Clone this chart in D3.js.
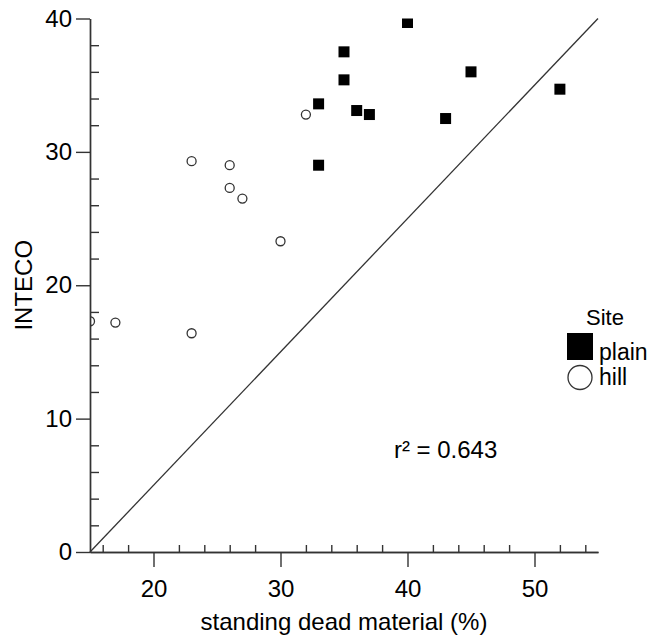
<!DOCTYPE html>
<html lang="en">
<head>
  <meta charset="UTF-8">
  <title>INTECO vs standing dead material</title>
  <script src="https://d3js.org/d3.v7.min.js"></script>
  <style>
    body {
      background: #fff;
      margin: 0;
    }
    text {
      font-family: Arial, 'Liberation Sans', Helvetica, sans-serif;
      fill: #000;
    }
    .tick text {
      font-size: 24px;
    }
    .axis path, .axis line {
      stroke: #333;
      stroke-width: 1.4px;
    }
  </style>
</head>
<body>
  <script>
    // site "plain" (filled squares)
    var plainX = [33, 33, 35, 35, 36, 37, 40, 43, 45, 52];
    var plainY = [33.6, 29.0, 37.5, 35.4, 33.1, 32.8, 39.7, 32.5, 36.0, 34.7];

    // site "hill" (open circles)
    var hillX = [15, 17, 23, 23, 26, 26, 27, 30, 32];
    var hillY = [17.3, 17.2, 16.4, 29.3, 29.0, 27.3, 26.5, 23.3, 32.8];

    var xMajor = [20, 30, 40, 50];
    var xMinor = [16, 18, 22, 24, 26, 28, 32, 34, 36, 38, 42, 44, 46, 48, 52, 54];
    var yMajor = [0, 10, 20, 30, 40];
    var yMinor = [2, 4, 6, 8, 12, 14, 16, 18, 22, 24, 26, 28, 32, 34, 36, 38];

    var refLine = [[15, 0], [55, 40]];
    var r2Label = "r\u00b2 = 0.643";

    var width = 652, height = 637;
    var margin = { top: 18.5, right: 54, bottom: 85, left: 90 };

    var svg = d3.select("body").append("svg")
      .attr("width", width)
      .attr("height", height);

    var x = d3.scaleLinear()
      .domain([15, 55])
      .range([margin.left, width - margin.right]);

    var y = d3.scaleLinear()
      .domain([0, 40])
      .range([height - margin.bottom, margin.top]);

    svg.append("clipPath")
      .attr("id", "plot")
      .append("rect")
      .attr("x", x(15))
      .attr("y", y(40))
      .attr("width", x(55) - x(15))
      .attr("height", y(0) - y(40));

    // reference line y = x - 15
    svg.append("line")
      .attr("x1", x(refLine[0][0]))
      .attr("y1", y(refLine[0][1]))
      .attr("x2", x(refLine[1][0]))
      .attr("y2", y(refLine[1][1]))
      .attr("stroke", "#333")
      .attr("stroke-width", 1.3);

    var points = svg.append("g")
      .attr("clip-path", "url(#plot)");

    points.selectAll(".hill")
      .data(hillX)
      .enter()
      .append("circle")
      .attr("cx", function(d) { return x(d); })
      .attr("cy", function(d, i) { return y(hillY[i]); })
      .attr("r", 4.5)
      .attr("fill", "#fff")
      .attr("stroke", "#333")
      .attr("stroke-width", 1.3);

    points.selectAll(".plain")
      .data(plainX)
      .enter()
      .append("rect")
      .attr("x", function(d) { return x(d) - 5.5; })
      .attr("y", function(d, i) { return y(plainY[i]) - 5.5; })
      .attr("width", 11)
      .attr("height", 11)
      .attr("fill", "#000");

    // axes
    var xAxis = svg.append("g")
      .attr("class", "axis")
      .attr("transform", "translate(0," + y(0) + ")");

    xAxis.call(d3.axisBottom(x)
      .tickValues(xMinor)
      .tickSize(-7)
      .tickSizeOuter(0)
      .tickFormat(""));

    xAxis.append("g").call(d3.axisBottom(x)
      .tickValues(xMajor)
      .tickSize(15)
      .tickPadding(13)
      .tickSizeOuter(0));

    var yAxis = svg.append("g")
      .attr("class", "axis")
      .attr("transform", "translate(" + x(15) + ",0)");

    yAxis.call(d3.axisLeft(y)
      .tickValues(yMinor)
      .tickSize(-9)
      .tickSizeOuter(0)
      .tickFormat(""));

    yAxis.append("g").call(d3.axisLeft(y)
      .tickValues(yMajor)
      .tickSize(14)
      .tickPadding(4)
      .tickSizeOuter(0));

    svg.selectAll(".tick text").attr("fill", "#000");

    // axis titles
    svg.append("text")
      .attr("x", (x(15) + x(55)) / 2)
      .attr("y", 630)
      .attr("text-anchor", "middle")
      .style("font-size", "24px")
      .text("standing dead material (%)");

    svg.append("text")
      .attr("transform", "translate(32," + (y(0) + y(40)) / 2 + ") rotate(-90)")
      .attr("text-anchor", "middle")
      .style("font-size", "24px")
      .text("INTECO");

    svg.append("text")
      .attr("x", x(43))
      .attr("y", y(7.06))
      .attr("text-anchor", "middle")
      .style("font-size", "24px")
      .text(r2Label);

    // legend
    var legend = svg.append("g")
      .attr("transform", "translate(567,0)");

    legend.append("text")
      .attr("x", 38)
      .attr("y", 325)
      .attr("text-anchor", "middle")
      .style("font-size", "22px")
      .text("Site");

    legend.append("rect")
      .attr("x", 0)
      .attr("y", 333)
      .attr("width", 26)
      .attr("height", 27)
      .attr("fill", "#000");

    legend.append("text")
      .attr("x", 32)
      .attr("y", 360)
      .style("font-size", "23px")
      .text("plain");

    legend.append("circle")
      .attr("cx", 13)
      .attr("cy", 377.5)
      .attr("r", 12)
      .attr("fill", "#fff")
      .attr("stroke", "#333")
      .attr("stroke-width", 1.3);

    legend.append("text")
      .attr("x", 32)
      .attr("y", 385)
      .style("font-size", "23px")
      .text("hill");
  </script>
</body>
</html>
